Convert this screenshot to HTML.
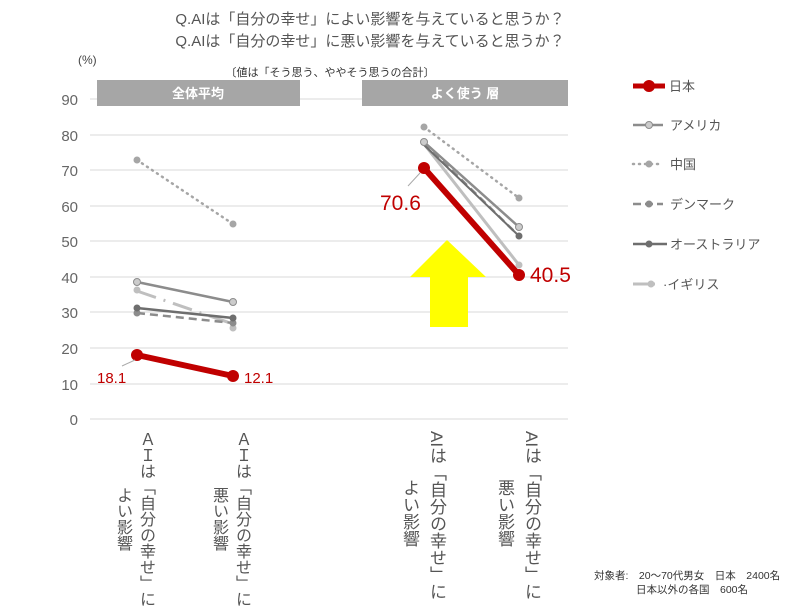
<!DOCTYPE html>
<html><head><meta charset="utf-8"><style>
body{margin:0;background:#fff;}
.w{position:relative;width:800px;height:609px;overflow:hidden;font-family:"Liberation Sans","Noto Sans CJK JP",sans-serif;}
.v{position:absolute;writing-mode:vertical-rl;font-size:16px;color:#555;line-height:23px;white-space:nowrap;height:176px;text-align:center;}
.r{font-size:17px;height:163px;line-height:27px;}
</style></head><body><div class="w">
<svg width="800" height="609" style="position:absolute;left:0;top:0" font-family="Liberation Sans, Noto Sans CJK JP, sans-serif">
<text x="370" y="24" font-size="15" fill="#555" text-anchor="middle">Q.AIは「自分の幸せ」によい影響を与えていると思うか？</text>
<text x="370" y="46" font-size="15" fill="#555" text-anchor="middle">Q.AIは「自分の幸せ」に悪い影響を与えていると思うか？</text>
<text x="78" y="64" font-size="12" fill="#444">(%)</text>
<text x="330" y="76" font-size="11" fill="#333" text-anchor="middle">〔値は「そう思う、ややそう思うの合計〕</text>
<g stroke="#d9d9d9" stroke-width="1">
<line x1="90" x2="568" y1="99" y2="99"/><line x1="90" x2="568" y1="135" y2="135"/><line x1="90" x2="568" y1="170" y2="170"/><line x1="90" x2="568" y1="206" y2="206"/><line x1="90" x2="568" y1="241" y2="241"/><line x1="90" x2="568" y1="277" y2="277"/><line x1="90" x2="568" y1="312" y2="312"/><line x1="90" x2="568" y1="348" y2="348"/><line x1="90" x2="568" y1="384" y2="384"/><line x1="90" x2="568" y1="419" y2="419"/>
</g>
<rect x="97" y="80" width="203" height="26" fill="#a6a6a6"/>
<rect x="362" y="80" width="206" height="26" fill="#a6a6a6"/>
<text x="198" y="98" font-size="13" fill="#fff" text-anchor="middle" font-weight="bold">全体平均</text>
<text x="465" y="98" font-size="13" fill="#fff" text-anchor="middle" font-weight="bold">よく使う 層</text>
<g font-size="15" fill="#666" text-anchor="end">
<text x="78" y="105">90</text><text x="78" y="141">80</text><text x="78" y="176">70</text><text x="78" y="212">60</text><text x="78" y="247">50</text><text x="78" y="283">40</text><text x="78" y="318">30</text><text x="78" y="354">20</text><text x="78" y="390">10</text><text x="78" y="425">0</text>
</g>
<polygon points="447,240 486,277 468,277 468,327 430,327 430,277 410,277" fill="#ffff00"/>
<g>
<line x1="137" y1="160" x2="233" y2="224" stroke="#a6a6a6" stroke-width="2.5" stroke-dasharray="1,5" stroke-linecap="round"/>
<circle cx="137" cy="160" r="3.5" fill="#a6a6a6"/><circle cx="233" cy="224" r="3.5" fill="#a6a6a6"/>
<line x1="137" y1="291" x2="233" y2="324" stroke="#bfbfbf" stroke-width="3" stroke-dasharray="20,8,2,8"/>
<circle cx="137" cy="290" r="3.5" fill="#bfbfbf"/><circle cx="233" cy="328" r="3.5" fill="#bfbfbf"/>
<line x1="137" y1="282" x2="233" y2="302" stroke="#8c8c8c" stroke-width="2.5"/>
<circle cx="137" cy="282" r="3.5" fill="#ccc" stroke="#8c8c8c"/><circle cx="233" cy="302" r="3.5" fill="#ccc" stroke="#8c8c8c"/>
<line x1="137" y1="313" x2="233" y2="323" stroke="#8c8c8c" stroke-width="2.5" stroke-dasharray="8,5"/>
<circle cx="137" cy="313" r="3.5" fill="#8c8c8c"/><circle cx="233" cy="323" r="3.5" fill="#8c8c8c"/>
<line x1="137" y1="308" x2="233" y2="318" stroke="#6e6e6e" stroke-width="2.5"/>
<circle cx="137" cy="308" r="3.5" fill="#6e6e6e"/><circle cx="233" cy="318" r="3.5" fill="#6e6e6e"/>
<line x1="137" y1="355" x2="233" y2="376" stroke="#c00000" stroke-width="6"/>
<circle cx="137" cy="355" r="6" fill="#c00000"/><circle cx="233" cy="376" r="6" fill="#c00000"/>
<line x1="122" y1="366" x2="135" y2="360" stroke="#aaa"/>
<text x="97" y="383" font-size="15" fill="#c00000">18.1</text>
<text x="244" y="383" font-size="15" fill="#c00000">12.1</text>
</g>
<g>
<line x1="424" y1="127" x2="519" y2="198" stroke="#a6a6a6" stroke-width="2.5" stroke-dasharray="1,5" stroke-linecap="round"/>
<circle cx="424" cy="127" r="3.5" fill="#a6a6a6"/><circle cx="519" cy="198" r="3.5" fill="#a6a6a6"/>
<line x1="424" y1="144" x2="519" y2="265" stroke="#bfbfbf" stroke-width="3"/>
<line x1="424" y1="142" x2="519" y2="227" stroke="#8c8c8c" stroke-width="2.5"/>
<line x1="424" y1="143" x2="519" y2="236" stroke="#8c8c8c" stroke-width="2.5" stroke-dasharray="8,5"/>
<line x1="424" y1="145" x2="519" y2="236" stroke="#6e6e6e" stroke-width="2"/>
<circle cx="424" cy="142" r="3.5" fill="#ccc" stroke="#8c8c8c"/><circle cx="519" cy="227" r="3.5" fill="#ccc" stroke="#8c8c8c"/>
<circle cx="519" cy="236" r="3.5" fill="#6e6e6e"/><circle cx="519" cy="265" r="3.5" fill="#bfbfbf"/>
<line x1="424" y1="168" x2="519" y2="275" stroke="#c00000" stroke-width="6"/>
<circle cx="424" cy="168" r="6" fill="#c00000"/><circle cx="519" cy="275" r="6" fill="#c00000"/>
<line x1="408" y1="186" x2="420" y2="173" stroke="#aaa"/>
<text x="380" y="210" font-size="21" fill="#c00000">70.6</text>
<text x="530" y="282" font-size="21" fill="#c00000">40.5</text>
</g>
<g font-size="13" fill="#555">
<line x1="633" y1="86" x2="665" y2="86" stroke="#c00000" stroke-width="5"/><circle cx="649" cy="86" r="6" fill="#c00000"/>
<text x="669" y="91">日本</text>
<line x1="633" y1="125" x2="663" y2="125" stroke="#8c8c8c" stroke-width="2.5"/><circle cx="649" cy="125" r="3.5" fill="#ccc" stroke="#8c8c8c"/>
<text x="670" y="130">アメリカ</text>
<line x1="633" y1="164" x2="663" y2="164" stroke="#a6a6a6" stroke-width="2.5" stroke-dasharray="1,5" stroke-linecap="round"/><circle cx="649" cy="164" r="3.5" fill="#a6a6a6"/>
<text x="670" y="169">中国</text>
<line x1="633" y1="204" x2="663" y2="204" stroke="#8c8c8c" stroke-width="2.5" stroke-dasharray="8,4"/><circle cx="649" cy="204" r="3.5" fill="#8c8c8c"/>
<text x="670" y="209">デンマーク</text>
<line x1="633" y1="244" x2="667" y2="244" stroke="#6e6e6e" stroke-width="2.5"/><circle cx="649" cy="244" r="3.5" fill="#6e6e6e"/>
<text x="670" y="249">オーストラリア</text>
<line x1="633" y1="284" x2="655" y2="284" stroke="#bfbfbf" stroke-width="3"/><circle cx="651" cy="284" r="3.5" fill="#bfbfbf"/>
<text x="663" y="289">·イギリス</text>
</g>
<text x="594" y="579" font-size="10.5" fill="#333">対象者:　20～70代男女　日本　2400名</text>
<text x="636" y="593" font-size="10.5" fill="#333">日本以外の各国　600名</text>
</svg>
<div class="v" style="left:111px;top:431px">ＡＩは「自分の幸せ」に<br>よい影響</div>
<div class="v" style="left:207px;top:431px">ＡＩは「自分の幸せ」に<br>悪い影響</div>
<div class="v r" style="left:396px;top:431px">AIは「自分の幸せ」に<br>よい影響</div>
<div class="v r" style="left:491px;top:431px">AIは「自分の幸せ」に<br>悪い影響</div>
</div></body></html>
